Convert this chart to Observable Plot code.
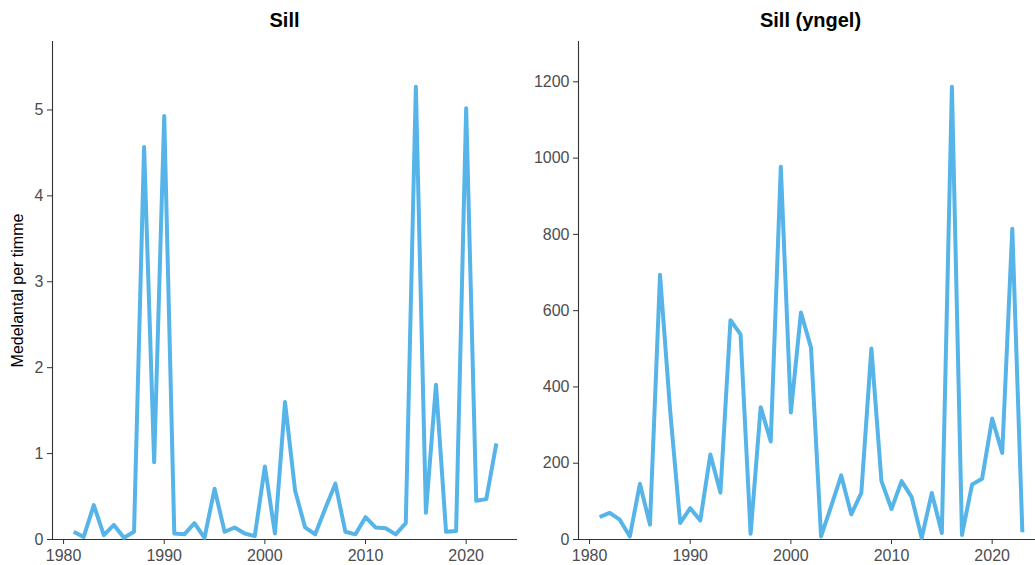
<!DOCTYPE html>
<html><head><meta charset="utf-8">
<script src="https://cdn.jsdelivr.net/npm/d3@7"></script>
<script src="https://cdn.jsdelivr.net/npm/@observablehq/plot@0.6"></script>
<style>
body{margin:0;overflow:hidden;background:#fff;font-family:"Liberation Sans",Arial,sans-serif;}
#wrap{display:flex;width:1100px;}
.panel{flex:none;}
.title{height:40px;line-height:40px;font-weight:bold;font-size:20px;text-align:center;color:#000;box-sizing:border-box;}
svg{display:block;}
</style></head><body><div id="wrap"></div><script>
const years = [1981,1982,1983,1984,1985,1986,1987,1988,1989,1990,1991,1992,1993,1994,1995,1996,1997,1998,1999,2000,2001,2002,2003,2004,2005,2006,2007,2008,2009,2010,2011,2012,2013,2014,2015,2016,2017,2018,2019,2020,2021,2022,2023];
const sill = [0.09,0.03,0.40,0.05,0.17,0.02,0.09,4.57,0.90,4.93,0.07,0.06,0.19,0.02,0.59,0.09,0.14,0.07,0.04,0.85,0.07,1.60,0.57,0.14,0.06,0.36,0.65,0.09,0.06,0.26,0.14,0.13,0.06,0.19,5.27,0.31,1.80,0.09,0.10,5.02,0.45,0.47,1.12];
const sillYngel = [59,70,52,8,146,39,694,340,43,82,50,223,123,575,538,15,347,257,977,333,595,503,8,87,168,66,122,501,153,80,153,111,4,122,17,1187,12,144,159,317,227,815,19];
const titles = ["Sill", "Sill (yngel)"];
const yLabel = "Medelantal per timme";
const xTicks = [1980,1990,2000,2010,2020];
const yTicksLeft = [0,1,2,3,4,5];
const yTicksRight = [0,200,400,600,800,1000,1200];

const span = years[years.length-1] - years[0];
const xDomain = [years[0] - 0.05*span, years[years.length-1] + 0.05*span];
const FONT = '"Liberation Sans", Arial, sans-serif';

function panel(values, title, o) {
  const data = years.map((y, i) => ({year: y, value: values[i]}));
  const div = document.createElement("div");
  div.className = "panel";
  div.style.width = o.width + "px";
  const t = document.createElement("div");
  t.className = "title";
  t.style.paddingLeft = o.ml + "px";
  t.style.paddingRight = o.mr + "px";
  t.textContent = title;
  div.appendChild(t);
  const ymax = d3.max(values) * 1.1;
  const marks = [
    Plot.ruleY([0], {stroke: "#333", strokeWidth: 1.1}),
    Plot.ruleX([xDomain[0]], {stroke: "#333", strokeWidth: 1.1}),
    Plot.axisX({ticks: xTicks, tickFormat: d => String(d), tickSize: 5, tickPadding: 5, label: null, stroke: "#333", fill: "#4d4d4d", fontSize: 16}),
    Plot.axisY({ticks: o.yTicks, tickFormat: d => String(d), tickSize: 5, tickPadding: 4, label: null, stroke: "#333", fill: "#4d4d4d", fontSize: 16}),
    Plot.line(data, {x: "year", y: "value", stroke: "#56B4E9", strokeWidth: 4, strokeLinejoin: "round", strokeLinecap: "butt"})
  ];
  if (o.ylabel) marks.push(Plot.text([o.ylabel], {frameAnchor: "left", textAnchor: "middle", rotate: -90, dx: -35, fill: "#000", fontSize: 16}));
  const p = Plot.plot({
    width: o.width, height: 525,
    marginLeft: o.ml, marginRight: o.mr, marginTop: 1, marginBottom: 26,
    style: {fontFamily: FONT, fontSize: "16px", background: "white", overflow: "visible"},
    x: {domain: xDomain},
    y: {domain: [0, ymax]},
    marks
  });
  div.appendChild(p);
  return div;
}
const wrap = document.getElementById("wrap");
wrap.appendChild(panel(sill, titles[0], {width: 525, ml: 52, mr: 8, yTicks: yTicksLeft, ylabel: yLabel}));
wrap.appendChild(panel(sillYngel, titles[1], {width: 526, ml: 53, mr: 8, yTicks: yTicksRight}));
</script></body></html>
